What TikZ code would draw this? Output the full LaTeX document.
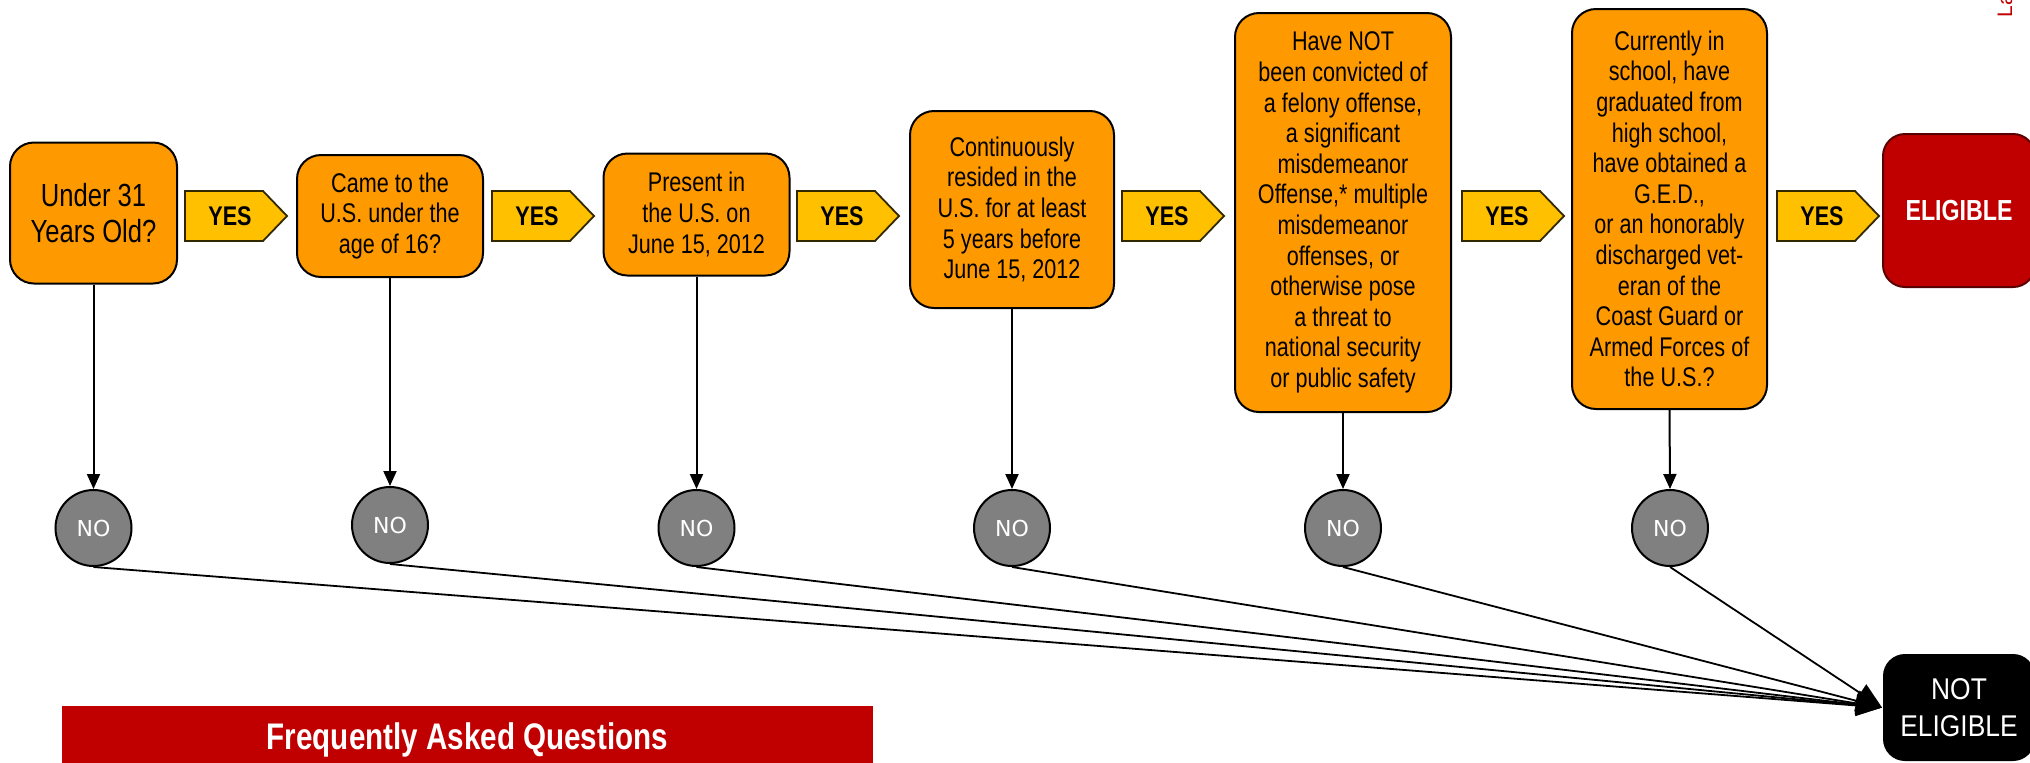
\documentclass[tikz,border=0pt]{standalone}
\usepackage{fontspec}
\setmainfont{Liberation Sans}[FakeStretch=0.8]
\newfontfamily\widesans{Liberation Sans}
\newfontfamily\notsans{Liberation Sans}[FakeStretch=0.88]
\newfontfamily\nosans{DejaVu Sans}
\usetikzlibrary{arrows.meta}

\tikzset{every picture/.style={line width=1pt}}
\tikzset{
  question/.style={draw={rgb, 255:red, 0; green, 0; blue, 0 }, fill={rgb, 255:red, 255; green, 153; blue, 0 }, rounded corners=12pt, line width=1pt, inner sep=0pt, align=center, font={\fontsize{13.5pt}{15.3pt}\selectfont}},
  yesshape/.style={draw={rgb, 255:red, 50; green, 40; blue, 0 }, fill={rgb, 255:red, 255; green, 192; blue, 0 }, line width=0.9pt},
  yestext/.style={inner sep=0pt, font={\bfseries\fontsize{13.5pt}{15pt}\selectfont}},
  nocircle/.style={circle, draw, fill={rgb, 255:red, 128; green, 128; blue, 128 }, minimum size=38pt, inner sep=0pt, text=white, font={\nosans\fontsize{11pt}{13pt}\selectfont}},
  result/.style={rounded corners=11pt, inner sep=0pt, align=center, text=white},
  downarrow/.style={-{Triangle[length=7.5pt,width=6.5pt]}, line width=1pt},
  tonot/.style={-{Triangle[length=13pt,width=10.5pt]}, line width=0.9pt},
}

\begin{document}
\begin{tikzpicture}[x=0.5pt,y=0.5pt,yscale=-1,xscale=1]
	\useasboundingbox (0,0) rectangle (2030,762);

	%Shape: Rounded Rect (questions)
	\node [question, minimum width=83.5pt, minimum height=70.5pt, font={\fontsize{16pt}{18pt}\selectfont}] (q1) at (93.5,213) {Under 31\\Years Old?};
	\node [question, minimum width=93pt, minimum height=61pt] (q2) at (390,216) {Came to the\\U.S. under the\\age of 16?};
	\node [question, minimum width=93pt, minimum height=61pt] (q3) at (696.5,214.5) {Present in\\the U.S. on\\June 15, 2012};
	\node [question, minimum width=102pt, minimum height=98.5pt] (q4) at (1012,209.5) {Continuously\\resided in the\\U.S. for at least\\5 years before\\June 15, 2012};
	\node [question, minimum width=108pt, minimum height=199.5pt] (q5) at (1343,212.5) {Have NOT\\been convicted of\\a felony offense,\\a significant\\misdemeanor\\Offense,* multiple\\misdemeanor\\offenses, or\\otherwise pose\\a threat to\\national security\\or public safety};
	\node [question, minimum width=97.5pt, minimum height=200pt] (q6) at (1669.5,209) {Currently in\\school, have\\graduated from\\high school,\\have obtained a\\G.E.D.,\\or an honorably\\discharged vet-\\eran of the\\Coast Guard or\\Armed Forces of\\the U.S.?};

	%Shape: Rounded Rect (results)
	\node [result, draw={rgb, 255:red, 90; green, 0; blue, 0 }, fill={rgb, 255:red, 192; green, 0; blue, 0 }, minimum width=76pt, minimum height=76.5pt, font={\bfseries\fontsize{14.5pt}{17pt}\selectfont}] (elig) at (1959,210.5) {ELIGIBLE};
	\node [result, fill={rgb, 255:red, 0; green, 0; blue, 0 }, minimum width=76pt, minimum height=53.5pt, font={\notsans\fontsize{15pt}{18.5pt}\selectfont}] (notelig) at (1959,707.5) {NOT\\ELIGIBLE};

	%Shape: Pentagon Right
	\foreach \x [count=\i] in {185,492,797,1122,1462,1777} {
		\draw [yesshape] (\x,191) -- (\x+78,191) -- (\x+102,216) -- (\x+78,241) -- (\x,241) -- cycle ;
		% Text Node
		\node [yestext] (yes\i) at (\x+45,216) {YES};
	}

	%Shape: Circle
	\node [nocircle] (no1) at (93.5,528) {NO};
	\node [nocircle] (no2) at (390,525) {NO};
	\node [nocircle] (no3) at (696.5,528) {NO};
	\node [nocircle] (no4) at (1012,528) {NO};
	\node [nocircle] (no5) at (1343,528) {NO};
	\node [nocircle] (no6) at (1670,528) {NO};

	%Straight Lines
	\foreach \i in {1,...,6} {
		\draw [downarrow] (q\i.south) -- (no\i.north) ;
		\draw [tonot] (no\i.south) -- (notelig.west) ;
	}

	%Shape: Rectangle
	\node [fill={rgb, 255:red, 192; green, 0; blue, 0 }, minimum width=405.5pt, minimum height=34pt, inner sep=0pt, text=white, font={\bfseries\fontsize{18.5pt}{21pt}\selectfont}] (faq) at (467.5,740) {Frequently Asked Questions};

	% Text Node
	\node [rotate=90, anchor=base west, inner sep=0pt, text={rgb, 255:red, 192; green, 0; blue, 0 }, font={\widesans\fontsize{10.5pt}{12pt}\selectfont}] (tag) at (2012,18) {La};
\end{tikzpicture}
\end{document}
